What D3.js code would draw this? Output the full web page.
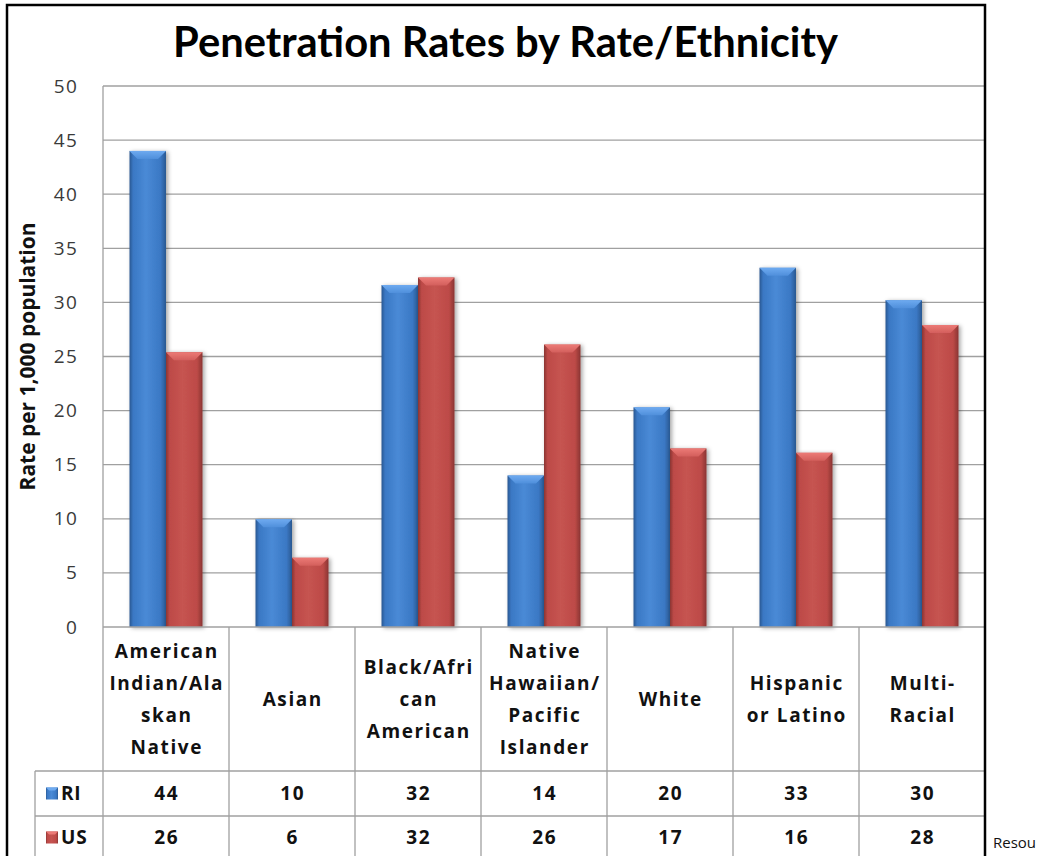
<!DOCTYPE html>
<html>
<head>
<meta charset="utf-8">
<script src="https://cdn.jsdelivr.net/npm/d3@7"></script>
<style>
  html, body { margin: 0; padding: 0; background: #fff; overflow: hidden; }
  svg { display: block; }
</style>
</head>
<body>
<svg id="chart" width="1047" height="856"></svg>
<script>
// ---- data ----
const categories = [
  "American\nIndian/Ala\nskan\nNative",
  "Asian",
  "Black/Afri\ncan\nAmerican",
  "Native\nHawaiian/\nPacific\nIslander",
  "White",
  "Hispanic\nor Latino",
  "Multi-\nRacial"
];
const seriesNames = ["RI", "US"];
const riValues = [44, 9.95, 31.6, 14, 20.3, 33.2, 30.2];
const usValues = [25.4, 6.4, 32.3, 26.1, 16.5, 16.1, 27.9];
const riTable = ["44", "10", "32", "14", "20", "33", "30"];
const usTable = ["26", "6", "32", "26", "17", "16", "28"];
const yTicks = [0, 5, 10, 15, 20, 25, 30, 35, 40, 45, 50];
const titleText = "Penetration Rates by Rate/Ethnicity";
const yTitle = "Rate per 1,000 population";
const sideNote = "Resou";

// ---- layout ----
const svg = d3.select("#chart");
const TFONT = "Lato, 'Open Sans', sans-serif";
const FONT = "'Open Sans', Lato, sans-serif";
const plotL = 103, plotR = 985, plotT = 86, plotB = 627;
const rowCatB = 771, rowRIB = 816, rowUSB = 861;
const legendL = 35;

const x0 = d3.scaleBand().domain(d3.range(categories.length)).range([plotL, plotR]).padding(0);
const x1 = d3.scaleBand().domain(seriesNames).range([0, x0.bandwidth()]).paddingInner(0).paddingOuter(0.726);
const y = d3.scaleLinear().domain([0, 50]).range([plotB, plotT]);

const defs = svg.append("defs");
const palette = {
  RI: { dark: "#2a5891", mid: "#3a78c4", light: "#4a8ad6", top: "#6eaaf0", topDark: "#4f8fdb" },
  US: { dark: "#8a3533", mid: "#bd4a47", light: "#c65451", top: "#ec7a76", topDark: "#d35f5c" }
};
seriesNames.forEach(s => {
  const g = defs.append("linearGradient").attr("id", "grad" + s).attr("x1", 0).attr("x2", 1).attr("y1", 0).attr("y2", 0);
  const c = palette[s];
  [[0, c.dark], [0.1, c.mid], [0.45, c.light], [0.85, c.mid], [1, c.dark]].forEach(([o, col]) =>
    g.append("stop").attr("offset", o).attr("stop-color", col));
  const gt = defs.append("linearGradient").attr("id", "top" + s).attr("x1", 0).attr("x2", 0).attr("y1", 0).attr("y2", 1);
  gt.append("stop").attr("offset", 0).attr("stop-color", c.top);
  gt.append("stop").attr("offset", 1).attr("stop-color", c.topDark);
});
const shadow = defs.append("filter").attr("id", "shadow").attr("x", "-20%").attr("y", "-10%").attr("width", "140%").attr("height", "120%");
shadow.append("feDropShadow").attr("dx", 2).attr("dy", 1).attr("stdDeviation", 2).attr("flood-color", "#000").attr("flood-opacity", 0.35);

// ---- gridlines ----
svg.append("g").selectAll("line").data(yTicks.filter(t => t > 0)).join("line")
  .attr("x1", plotL).attr("x2", plotR)
  .attr("y1", d => y(d)).attr("y2", d => y(d))
  .attr("stroke", "#a0a0a0").attr("stroke-width", 1.3);

// y axis labels via d3 axis
const yAxis = svg.append("g").attr("transform", `translate(${plotL},0)`)
  .call(d3.axisLeft(y).tickValues(yTicks).tickSize(0).tickPadding(25));
yAxis.select(".domain").remove();
yAxis.selectAll("text").attr("font-family", FONT).attr("font-size", 19)
  .attr("letter-spacing", 1.2).attr("fill", "#3a3a3a");

// plot left line
svg.append("line").attr("x1", plotL).attr("x2", plotL).attr("y1", plotT).attr("y2", rowUSB + 10)
  .attr("stroke", "#a0a0a0").attr("stroke-width", 1.3);

// y title (fitted to reference length)
const yt = svg.append("text")
  .attr("transform", `translate(35,${(plotT + plotB) / 2}) rotate(-90)`)
  .attr("text-anchor", "middle")
  .attr("font-family", FONT).attr("font-weight", "bold").attr("font-size", 18).attr("fill", "#111")
  .text(yTitle);
yt.attr("font-size", 18 * 268 / yt.node().getComputedTextLength());

// ---- bars ----
const data = categories.map((c, i) => ({ i, vals: [{ s: "RI", v: riValues[i] }, { s: "US", v: usValues[i] }] }));
const groups = svg.append("g").selectAll("g").data(data).join("g")
  .attr("transform", d => `translate(${x0(d.i)},0)`);
const bars = groups.selectAll("g").data(d => d.vals).join("g").attr("filter", "url(#shadow)");
bars.append("rect")
  .attr("x", d => x1(d.s)).attr("width", x1.bandwidth())
  .attr("y", d => y(d.v)).attr("height", d => y(0) - y(d.v))
  .attr("fill", d => `url(#grad${d.s})`);
bars.append("path")
  .attr("d", d => {
    const xl = x1(d.s), w = x1.bandwidth(), t = y(d.v), b = 8;
    return `M${xl},${t}L${xl + w},${t}L${xl + w - b},${t + b}L${xl + b},${t + b}Z`;
  })
  .attr("fill", d => `url(#top${d.s})`);

// ---- table ----
const grid = svg.append("g").attr("stroke", "#a0a0a0").attr("stroke-width", 1.3);
grid.append("line").attr("x1", plotL).attr("x2", plotR).attr("y1", plotB).attr("y2", plotB);
[rowCatB, rowRIB].forEach(yy => grid.append("line").attr("x1", legendL).attr("x2", plotR).attr("y1", yy).attr("y2", yy));
grid.append("line").attr("x1", legendL).attr("x2", legendL).attr("y1", rowCatB).attr("y2", rowUSB + 10);
d3.range(1, categories.length).forEach(i =>
  grid.append("line").attr("x1", x0(i)).attr("x2", x0(i)).attr("y1", plotB).attr("y2", rowUSB + 10));

const LS = 1.6; // letter spacing for table text
// category labels
const lineH = 32;
svg.append("g").selectAll("text").data(categories).join("text")
  .attr("font-family", FONT).attr("font-weight", "bold").attr("font-size", 19).attr("fill", "#111")
  .attr("letter-spacing", LS)
  .attr("text-anchor", "middle")
  .each(function (c, i) {
    const lines = c.split("\n");
    const cx = x0(i) + x0.bandwidth() / 2 + LS / 2;
    const cy = (plotB + rowCatB) / 2;
    const startY = cy - (lines.length - 1) * lineH / 2;
    d3.select(this).selectAll("tspan").data(lines).join("tspan")
      .attr("x", cx).attr("y", (d, k) => startY + k * lineH).attr("dy", "0.35em").text(d => d);
  });

// value rows
[[riTable, (rowCatB + rowRIB) / 2], [usTable, (rowRIB + rowUSB) / 2 - 1]].forEach(([vals, cy]) => {
  svg.append("g").selectAll("text").data(vals).join("text")
    .attr("x", (d, i) => x0(i) + x0.bandwidth() / 2 + LS / 2).attr("y", cy).attr("dy", "0.35em")
    .attr("text-anchor", "middle").attr("letter-spacing", LS)
    .attr("font-family", FONT).attr("font-weight", "bold").attr("font-size", 19).attr("fill", "#111")
    .text(d => d);
});

// legend cells
[["RI", (rowCatB + rowRIB) / 2], ["US", (rowRIB + rowUSB) / 2 - 1]].forEach(([s, cy]) => {
  const g = svg.append("g");
  g.append("rect").attr("x", 46).attr("y", cy - 6).attr("width", 12).attr("height", 12)
    .attr("fill", `url(#grad${s})`);
  g.append("path").attr("d", `M46,${cy - 6}L58,${cy - 6}L55,${cy - 3}L49,${cy - 3}Z`).attr("fill", palette[s].top);
  g.append("text").attr("x", 61).attr("y", cy).attr("dy", "0.35em")
    .attr("font-family", FONT).attr("font-weight", "bold").attr("font-size", 19).attr("fill", "#111")
    .attr("letter-spacing", 0.8)
    .text(s);
});

// ---- title (fitted to reference width) ----
const title = svg.append("text")
  .attr("x", (173 + 838) / 2).attr("y", 42).attr("dy", "0.35em").attr("text-anchor", "middle")
  .attr("font-family", TFONT).attr("font-weight", "bold").attr("font-size", 40).attr("fill", "#000")
  .text(titleText);
const tw = title.node().getComputedTextLength();
title.attr("font-size", 40 * 665 / tw);

// ---- outer border ----
svg.append("path").attr("d", `M7,${870}L7,5L985,5L985,${870}`)
  .attr("fill", "none").attr("stroke", "#000").attr("stroke-width", 2.5);

// side note (as visible in the reference)
svg.append("text").attr("x", 993).attr("y", 848)
  .attr("font-family", FONT).attr("font-size", 15).attr("fill", "#111").text(sideNote);
</script>
</body>
</html>
